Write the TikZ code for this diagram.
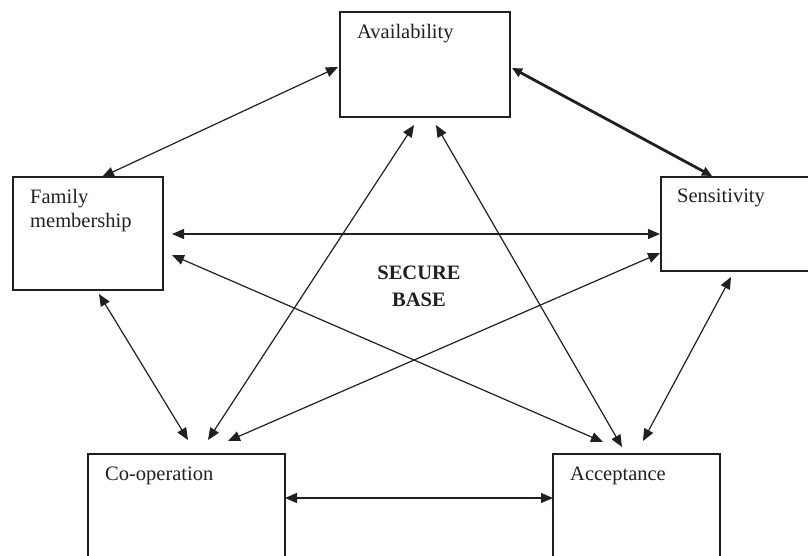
\documentclass[tikz,border=0pt]{standalone}
\usepackage{fontspec}
\setmainfont{Liberation Serif}
\usetikzlibrary{arrows.meta}
\definecolor{ink}{HTML}{231F20}
\begin{document}
\begin{tikzpicture}[x=1pt,y=-1pt,
  box/.style={draw=ink, line width=1.4pt, rectangle, anchor=north west, outer sep=0pt, inner sep=0pt},
  lbl/.style={anchor=north west, inner sep=0pt, font=\fontsize{20.5}{24}\selectfont, text=ink, align=left},
  link/.style={draw=ink, line width=1.2pt, {Triangle[length=12pt,width=10pt]}-{Triangle[length=12pt,width=10pt]}},
  boldlink/.style={draw=ink, line width=2.8pt, {Triangle[length=10pt,width=9pt]}-{Triangle[length=10pt,width=9pt]}}]
\useasboundingbox (0,0) rectangle (808,555);
\clip (0,0) rectangle (808,555);
\fill[white] (0,0) rectangle (808,555);

\node[box, minimum width=170pt, minimum height=105pt,
  label={[lbl, shift={(17,12)}]north west:Availability}] (av) at (340,12) {};
\node[box, minimum width=150pt, minimum height=113pt,
  label={[lbl, shift={(17,12)}]north west:Family\\membership}] (fam) at (13,177) {};
\node[box, minimum width=149pt, minimum height=94pt,
  label={[lbl, shift={(16,12)}]north west:Sensitivity}] (sen) at (661,177) {};
\node[box, minimum width=197pt, minimum height=106pt,
  label={[lbl, shift={(17,13)}]north west:Co-operation}] (coop) at (88,454) {};
\node[box, minimum width=167pt, minimum height=106pt,
  label={[lbl, shift={(17,13)}]north west:Acceptance}] (acc) at (553,454) {};

\node[anchor=north, inner sep=0pt, align=center, text=ink,
  font=\fontsize{20.5}{27}\selectfont\bfseries] (sb) at (419,266) {SECURE\\BASE};

\draw[link] ([shift={(89,0)}]fam.north west) -- ([shift={(-2,55)}]av.north west);
\draw[boldlink] ([shift={(2,56)}]av.north east) -- ([shift={(51,-1)}]sen.north west);
\draw[link] ([shift={(9,57)}]fam.north east) -- ([shift={(-1,57)}]sen.north west);
\draw[link] ([shift={(9,78)}]fam.north east) -- ([shift={(50,-12)}]acc.north west);
\draw[link] ([shift={(86,4)}]fam.south west) -- ([shift={(100,-14)}]coop.north west);
\draw[link] ([shift={(74,8)}]av.south west) -- ([shift={(120,-14)}]coop.north west);
\draw[link] ([shift={(96,8)}]av.south west) -- ([shift={(69,-7)}]acc.north west);
\draw[link] ([shift={(-1,76)}]sen.north west) -- ([shift={(140,-13)}]coop.north west);
\draw[link] ([shift={(70,6)}]sen.south west) -- ([shift={(90,-13)}]acc.north west);
\draw[link] ([shift={(0,44)}]coop.north east) -- ([shift={(0,44)}]acc.north west);
\end{tikzpicture}
\end{document}
